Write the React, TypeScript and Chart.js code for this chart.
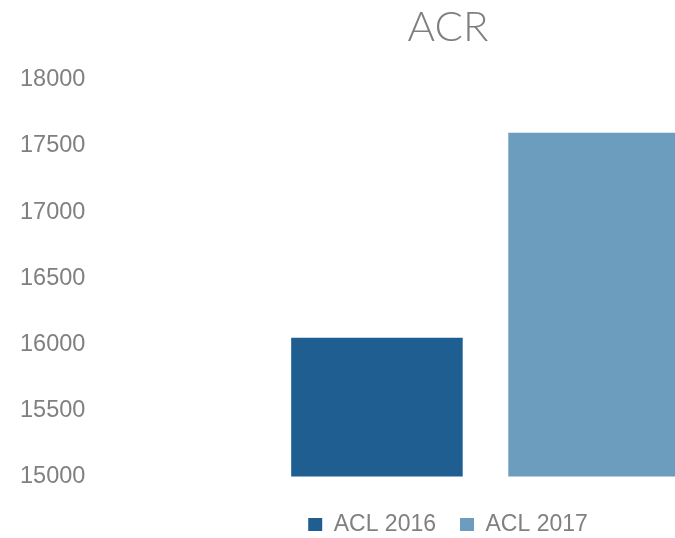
import React, { useEffect, useRef } from "react";
import { Chart, registerables } from "chart.js";

Chart.register(...registerables);

const categories = [""];
const seriesNames = ["ACL 2016", "ACL 2017"];
const acl2016 = [16050];
const acl2017 = [17600];
const seriesColors = ["#1f5e91", "#6c9dbf"];
const yMin = 15000;
const yMax = 18000;
const yStep = 500;
const titleText = "ACR";

export default function App() {
  const ref = useRef<HTMLCanvasElement | null>(null);

  useEffect(() => {
    if (!ref.current) return;
    const chart = new Chart(ref.current, {
      type: "bar",
      data: {
        labels: categories,
        datasets: [
          { label: seriesNames[0], data: acl2016, backgroundColor: seriesColors[0], borderWidth: 0 },
          { label: seriesNames[1], data: acl2017, backgroundColor: seriesColors[1], borderWidth: 0 },
        ],
      },
      options: {
        responsive: false,
        animation: false,
        devicePixelRatio: 1,
        categoryPercentage: 0.556,
        barPercentage: 0.79,
        layout: { padding: { left: 20, right: 24, top: 0, bottom: 0 } },
        plugins: {
          title: {
            display: true,
            text: titleText,
            color: "#7f7f7f",
            font: { family: "Lato, 'Open Sans', sans-serif", size: 42, weight: "300" },
            padding: { top: 2, bottom: 27.5 },
          },
          legend: {
            position: "bottom",
            labels: {
              boxWidth: 14,
              boxHeight: 13,
              padding: 24,
              color: "#808080",
              font: { family: "'Liberation Sans', Arial, sans-serif", size: 23 },
            },
          },
          tooltip: { enabled: false },
        },
        scales: {
          x: {
            display: true,
            offset: true,
            grid: { display: false, drawTicks: false },
            border: { display: false },
            ticks: { display: false },
            afterFit: (s: any) => {
              s.height = 12.5;
            },
          },
          y: {
            min: yMin,
            max: yMax,
            grid: { display: false, drawTicks: false },
            border: { display: false },
            afterFit: (s: any) => {
              s.width = 75;
            },
            ticks: {
              stepSize: yStep,
              padding: 10,
              crossAlign: "far",
              color: "#808080",
              font: { family: "'Liberation Sans', Arial, sans-serif", size: 23.5 },
              callback: (v: any) => String(v),
            },
          },
        },
      },
    });
    return () => chart.destroy();
  }, []);

  return (
    <div
      style={{
        position: "absolute",
        left: 0,
        top: 0,
        width: 675,
        height: 538,
        overflow: "hidden",
        background: "#ffffff",
      }}
    >
      <canvas ref={ref} width={900} height={546} style={{ display: "block", width: 900, height: 546 }} />
    </div>
  );
}
